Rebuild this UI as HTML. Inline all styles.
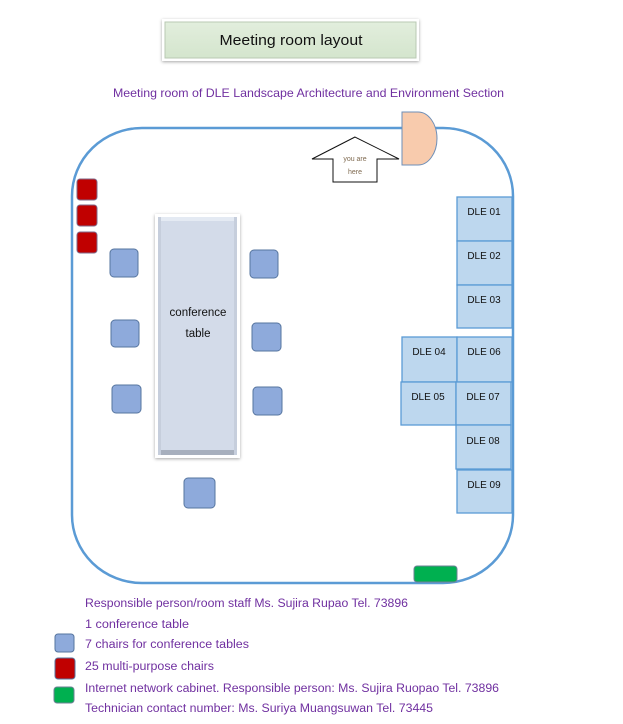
<!DOCTYPE html>
<html><head><meta charset="utf-8"><style>
html,body{margin:0;padding:0;background:#fff;}
svg{display:block;}
text{font-family:"Liberation Sans",Arial,sans-serif;}
</style></head><body>
<svg width="623" height="724" viewBox="0 0 623 724" xmlns="http://www.w3.org/2000/svg">
<defs>
<filter id="sh" x="-20%" y="-20%" width="140%" height="140%">
<feDropShadow dx="0" dy="1" stdDeviation="1.5" flood-color="#000" flood-opacity="0.35"/>
</filter>
<linearGradient id="tb" x1="0" y1="0" x2="0" y2="1">
<stop offset="0" stop-color="#e2eedd"/><stop offset="1" stop-color="#d4e5cd"/>
</linearGradient>
</defs>

<!-- Title -->
<rect x="162" y="19" width="257" height="42" fill="#fff" filter="url(#sh)"/>
<rect x="165" y="22" width="251" height="36" fill="url(#tb)" stroke="#b9c9b3" stroke-width="1"/>
<text x="291" y="45" font-size="15" text-anchor="middle" fill="#111" textLength="143" lengthAdjust="spacingAndGlyphs">Meeting room layout</text>

<!-- Subtitle -->
<text x="113" y="97" font-size="12" fill="#7030a0" textLength="391" lengthAdjust="spacingAndGlyphs">Meeting room of DLE Landscape Architecture and Environment Section</text>

<!-- Room -->
<rect x="72" y="128" width="441" height="455" rx="70" ry="68" fill="none" stroke="#5b9bd5" stroke-width="2.5"/>

<!-- Door -->
<path d="M402,112 H418 A19,26.5 0 0 1 418,165 H402 Z" fill="#f8cbad" stroke="#6e8fb8" stroke-width="1"/>

<!-- You are here arrow -->
<polygon points="355,137 312,159 333,159 333,182 377,182 377,159 399,159" fill="#fff" stroke="#111" stroke-width="1"/>
<text x="355" y="161" font-size="7" fill="#7f6a50" text-anchor="middle">you are</text>
<text x="355" y="174" font-size="7" fill="#7f6a50" text-anchor="middle">here</text>

<!-- DLE desks -->
<g fill="#bdd7ee" stroke="#5b9bd5" stroke-width="1.3">
<rect x="457" y="197" width="55" height="44"/>
<rect x="457" y="241" width="55" height="44"/>
<rect x="457" y="285" width="55" height="43"/>
<rect x="402" y="337" width="55" height="45"/>
<rect x="457" y="337" width="55" height="45"/>
<rect x="401" y="382" width="55" height="43"/>
<rect x="456" y="382" width="55" height="43"/>
<rect x="456" y="425" width="55" height="44"/>
<rect x="457" y="470" width="55" height="43"/>
</g>
<g font-size="10" fill="#111" text-anchor="middle">
<text x="484" y="215">DLE 01</text>
<text x="484" y="259">DLE 02</text>
<text x="484" y="303">DLE 03</text>
<text x="429" y="355">DLE 04</text>
<text x="484" y="355">DLE 06</text>
<text x="428" y="400">DLE 05</text>
<text x="483" y="400">DLE 07</text>
<text x="483" y="444">DLE 08</text>
<text x="484" y="488">DLE 09</text>
</g>

<!-- Red chairs -->
<g fill="#c00000" stroke="#7f6a8a" stroke-width="1">
<rect x="77" y="179" width="20" height="21" rx="3"/>
<rect x="77" y="205" width="20" height="21" rx="3"/>
<rect x="77" y="232" width="20" height="21" rx="3"/>
</g>

<!-- Conference table -->
<rect x="155" y="214" width="85" height="244" fill="#fff" filter="url(#sh)"/>
<rect x="158" y="217" width="79" height="238" fill="#d3dbe9"/>
<rect x="158" y="217" width="79" height="4" fill="#e4eaf3"/>
<rect x="158" y="450" width="79" height="5" fill="#a7afbd"/>
<rect x="158" y="217" width="3" height="238" fill="#c6cedc"/>
<rect x="234" y="217" width="3" height="238" fill="#c6cedc"/>
<text x="198" y="316" font-size="11.5" fill="#111" text-anchor="middle">conference</text>
<text x="198" y="337" font-size="11.5" fill="#111" text-anchor="middle">table</text>

<!-- Blue chairs -->
<g fill="#8eaadb" stroke="#56759f" stroke-width="1">
<rect x="110" y="249" width="28" height="28" rx="4"/>
<rect x="250" y="250" width="28" height="28" rx="4"/>
<rect x="111" y="320" width="28" height="27" rx="4"/>
<rect x="252" y="323" width="29" height="28" rx="4"/>
<rect x="112" y="385" width="29" height="28" rx="4"/>
<rect x="253" y="387" width="29" height="28" rx="4"/>
<rect x="184" y="478" width="31" height="30" rx="4"/>
</g>

<!-- Green cabinet -->
<rect x="414" y="566" width="43" height="16" rx="3" fill="#00b050" stroke="#6e8095" stroke-width="1"/>

<!-- Legend -->
<rect x="55" y="634" width="19" height="18" rx="3" fill="#8eaadb" stroke="#56759f" stroke-width="1"/>
<rect x="55" y="658" width="20" height="21" rx="3" fill="#c00000" stroke="#56759f" stroke-width="1"/>
<rect x="54" y="687" width="20" height="16" rx="3" fill="#00b050" stroke="#6e8095" stroke-width="1"/>
<g font-size="11.5" fill="#7030a0">
<text x="85" y="607" textLength="323" lengthAdjust="spacingAndGlyphs">Responsible person/room staff Ms. Sujira Rupao Tel. 73896</text>
<text x="85" y="628" textLength="104" lengthAdjust="spacingAndGlyphs">1 conference table</text>
<text x="85" y="648" textLength="164" lengthAdjust="spacingAndGlyphs">7 chairs for conference tables</text>
<text x="85" y="670" textLength="129" lengthAdjust="spacingAndGlyphs">25 multi-purpose chairs</text>
<text x="85" y="692" textLength="414" lengthAdjust="spacingAndGlyphs">Internet network cabinet. Responsible person: Ms. Sujira Ruopao Tel. 73896</text>
<text x="85" y="712" textLength="348" lengthAdjust="spacingAndGlyphs">Technician contact number: Ms. Suriya Muangsuwan Tel. 73445</text>
</g>
</svg>
</body></html>
